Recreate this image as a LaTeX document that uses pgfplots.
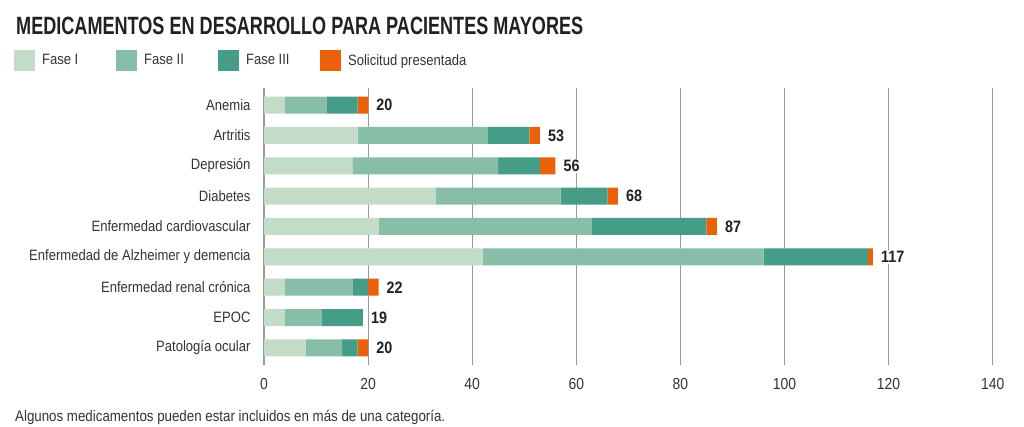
\documentclass[border=0pt]{standalone}
\usepackage{fontspec}
\setmainfont{Liberation Sans}[FakeStretch=0.87]
\usepackage{pgfplots}
\pgfplotsset{compat=1.18}
\usepackage{pgfplotstable}

\definecolor{fa}{HTML}{C2DCC7}
\definecolor{fb}{HTML}{86BEA7}
\definecolor{fc}{HTML}{459C87}
\definecolor{so}{HTML}{EB6109}
\definecolor{gridgray}{HTML}{9A9A9A}
\definecolor{textgray}{HTML}{333333}

\pgfplotstableread{
y f1 f2 f3 s t
0 4 8 6 2 20
1 18 25 8 2 53
2 17 28 8 3 56
3 33 24 9 2 68
4 22 41 22 2 87
5 42 54 20 1 117
6 4 13 3 2 22
7 4 7 8 0 19
8 8 7 3 2 20
}\datatable

\pgfplotsset{common/.style={
  at={(264bp,62bp)}, anchor=south west,
  scale only axis, width=728.7bp, height=277bp,
  xmin=0, xmax=140, ymin=-0.56, ymax=8.56, y dir=reverse,
  /pgf/number format/assume math mode=true}}

\begin{document}
\begin{tikzpicture}
\path[use as bounding box] (0,0) rectangle (1024bp,427bp);
\node[anchor=base west, inner sep=0pt, text=black!87] at (16bp,392bp) {\resizebox{567bp}{\height}{\fontsize{25bp}{30bp}\selectfont\bfseries MEDICAMENTOS EN DESARROLLO PARA PACIENTES MAYORES}};
\node[anchor=base west, inner sep=0pt, text=textgray] at (15bp,5.5bp) {\resizebox{430bp}{\height}{\fontsize{15.3bp}{18bp}\selectfont Algunos medicamentos pueden estar incluidos en más de una categoría.}};
\begin{axis}[
  common,
  xbar stacked, bar width=17bp,
  xtick={0,20,...,140}, ytick={0,...,8},
  yticklabels={Anemia, Artritis, Depresión, Diabetes, Enfermedad cardiovascular, Enfermedad de Alzheimer y demencia, Enfermedad renal crónica, EPOC, Patología ocular},
  axis line style={draw=none}, major tick length=0pt,
  xmajorgrids, grid style={color=gridgray, line width=1.2bp},
  ticklabel style={font=\fontsize{15bp}{18bp}\selectfont, text=textgray},
  xticklabel style={yshift=-9.5bp, font=\fontsize{16bp}{18bp}\selectfont},
  yticklabel style={xshift=-10bp},
  legend image code/.code={\fill[#1] (0bp,-10.5bp) rectangle (21bp,10.5bp);},
  legend style={at={(axis description cs:-0.343,1.0993)}, anchor=west, draw=none, fill=none,
    inner sep=0pt, outer sep=0pt, legend columns=4,
    nodes={inner sep=0pt, font=\fontsize{15bp}{18bp}\selectfont, text=textgray}},
  legend cell align=left,
]
\addplot[fill=fa, draw=none] table[x=f1,y=y]{\datatable};
\addplot[fill=fb, draw=none] table[x=f2,y=y]{\datatable};
\addplot[fill=fc, draw=none] table[x=f3,y=y]{\datatable};
\addplot[fill=so, draw=none] table[x=s,y=y]{\datatable};
\legend{\makebox[81bp][l]{\hspace{7bp}Fase I}, \makebox[81bp][l]{\hspace{7bp}Fase II}, \makebox[81bp][l]{\hspace{7bp}Fase III}, \hspace{7bp}Solicitud presentada}
\end{axis}
\begin{axis}[common, hide axis]
\addplot[only marks, mark=*, mark size=0pt, mark options={draw=none, fill=none},
  point meta=explicit, nodes near coords,
  nodes near coords style={anchor=west, inner xsep=1bp, inner ysep=1bp, xshift=7bp, fill=white, text=black!87,
    font=\fontsize{16.5bp}{18bp}\selectfont\bfseries}] table[x=t,y=y,meta=t]{\datatable};
\end{axis}
\end{tikzpicture}
\end{document}
